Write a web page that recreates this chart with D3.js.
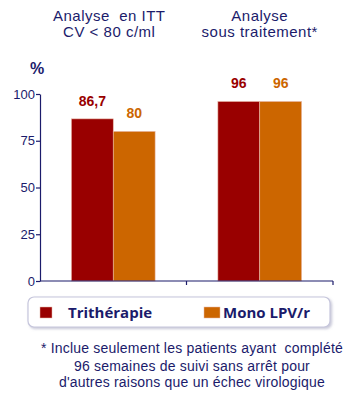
<!DOCTYPE html>
<html>
<head>
<meta charset="utf-8">
<script src="https://cdn.jsdelivr.net/npm/d3@7"></script>
<style>
  body { margin: 0; background: #fff; }
</style>
</head>
<body>
<div id="chart"></div>
<script>
// data
const groups = ["itt", "st"];
const groupTitles = [["Analyse  en ITT", "CV < 80 c/ml"], ["Analyse", "sous traitement*"]];
const series = ["Trithérapie", "Mono LPV/r"];
const valuesTri = [86.7, 96];
const valuesMono = [80, 96];
const valueLabelsTri = ["86,7", "96"];
const valueLabelsMono = ["80", "96"];
const yTicks = [0, 25, 50, 75, 100];
const footnote = ["* Inclue seulement les patients ayant  complété",
                  "96 semaines de suivi sans arrêt pour",
                  "d'autres raisons que un échec virologique"];

const W = 353, H = 400;
const navy = "#1b1b6b";
const color = d3.scaleOrdinal().domain(series).range(["#990000", "#cc6600"]);

const svg = d3.select("#chart").append("svg")
    .attr("width", W).attr("height", H)
    .style("font-family", "Arial, 'Liberation Sans', sans-serif");

// scales
const x0 = d3.scaleBand().domain(groups).range([40, 333]).paddingInner(0).paddingOuter(0);
const x1 = d3.scaleBand().domain(series).range([0, x0.bandwidth()]).paddingInner(0).paddingOuter(0.75);
const y = d3.scaleLinear().domain([0, 100]).range([281, 94]);

// group titles
groups.forEach((g, i) => {
    groupTitles[i].forEach((line, j) => {
        svg.append("text")
            .attr("x", x0(g) + x0.bandwidth() / 2 + (i === 0 ? -4 : 0))
            .attr("y", 21 + j * 15.5)
            .attr("text-anchor", "middle")
            .attr("fill", navy)
            .style("font-size", "15px")
            .style("letter-spacing", "0.5px")
            .style("white-space", "pre")
            .text(line);
    });
});

// % label
svg.append("text")
    .attr("x", 37).attr("y", 74)
    .attr("text-anchor", "middle")
    .attr("fill", navy)
    .style("font-size", "16px")
    .style("font-weight", "bold")
    .text("%");

// bars
const rows = groups.map((g, i) => ({
    group: g,
    vals: [
        {s: series[0], v: valuesTri[i], label: valueLabelsTri[i]},
        {s: series[1], v: valuesMono[i], label: valueLabelsMono[i]}
    ]
}));

const gg = svg.selectAll("g.grp")
    .data(rows)
    .join("g")
    .attr("class", "grp")
    .attr("transform", d => "translate(" + x0(d.group) + ",0)");

gg.selectAll("rect")
    .data(d => d.vals)
    .join("rect")
    .attr("x", d => x1(d.s))
    .attr("y", d => y(d.v))
    .attr("width", x1.bandwidth())
    .attr("height", d => y(0) - y(d.v))
    .attr("fill", d => color(d.s))
    .attr("stroke", "#e8b8a8")
    .attr("stroke-width", 0.6);

gg.selectAll("text.val")
    .data(d => d.vals)
    .join("text")
    .attr("class", "val")
    .attr("x", d => x1(d.s) + x1.bandwidth() / 2)
    .attr("y", d => y(d.v) - 13)
    .attr("text-anchor", "middle")
    .attr("fill", d => color(d.s))
    .style("font-size", "14px")
    .style("font-weight", "bold")
    .text(d => d.label);

// y axis
const yAxis = svg.append("g")
    .attr("transform", "translate(40,0)")
    .call(d3.axisLeft(y).tickValues(yTicks).tickSize(4).tickSizeOuter(0));
yAxis.select(".domain").attr("stroke", navy).attr("stroke-width", 1.2);
yAxis.selectAll(".tick line").attr("stroke", navy).attr("stroke-width", 1.2);
yAxis.selectAll(".tick text")
    .attr("fill", navy)
    .attr("x", -5)
    .style("font-size", "13px")
    .style("font-family", "Arial, 'Liberation Sans', sans-serif");

// x axis (ticks at band boundaries)
const xAxis = svg.append("g")
    .attr("transform", "translate(0," + y(0) + ")");
xAxis.append("line")
    .attr("x1", x0.range()[0]).attr("x2", x0.range()[1])
    .attr("stroke", navy).attr("stroke-width", 1.2);
xAxis.selectAll("line.tk")
    .data(groups)
    .join("line")
    .attr("class", "tk")
    .attr("x1", d => x0(d) + x0.bandwidth())
    .attr("x2", d => x0(d) + x0.bandwidth())
    .attr("y1", 0).attr("y2", 4)
    .attr("stroke", navy).attr("stroke-width", 1.2);

// legend
const defs = svg.append("defs");
const flt = defs.append("filter").attr("id", "sh").attr("x", "-10%").attr("y", "-30%").attr("width", "120%").attr("height", "160%");
flt.append("feDropShadow").attr("dx", 1.5).attr("dy", 1.5).attr("stdDeviation", 1.2).attr("flood-color", "#9090b0").attr("flood-opacity", 0.5);

svg.append("rect")
    .attr("x", 28).attr("y", 297)
    .attr("width", 302).attr("height", 30)
    .attr("rx", 6)
    .attr("fill", "#fff")
    .attr("stroke", "#c6c6dc")
    .attr("stroke-width", 1.2)
    .attr("filter", "url(#sh)");

const legendX = [40, 204];
const legendItems = svg.selectAll("g.leg")
    .data(series)
    .join("g")
    .attr("class", "leg")
    .attr("transform", (d, i) => "translate(" + legendX[i] + ",307)");
legendItems.append("rect")
    .attr("width", (d, i) => i === 0 ? 12 : 16)
    .attr("height", 11)
    .attr("fill", d => color(d))
    .attr("stroke", "#e8b8a8")
    .attr("stroke-width", 0.5);
legendItems.append("text")
    .attr("x", (d, i) => i === 0 ? 28 : 19)
    .attr("y", 11)
    .attr("fill", navy)
    .style("font-family", "'Open Sans', sans-serif")
    .style("font-size", "15px")
    .style("font-weight", "bold")
    .text(d => d);

// footnote
const footY = [353, 371, 387];
svg.selectAll("text.foot")
    .data(footnote)
    .join("text")
    .attr("class", "foot")
    .attr("x", 192)
    .attr("y", (d, i) => footY[i])
    .attr("text-anchor", "middle")
    .attr("fill", navy)
    .style("font-size", "14px")
    .style("letter-spacing", "0.2px")
    .style("white-space", "pre")
    .text(d => d);
</script>
</body>
</html>
